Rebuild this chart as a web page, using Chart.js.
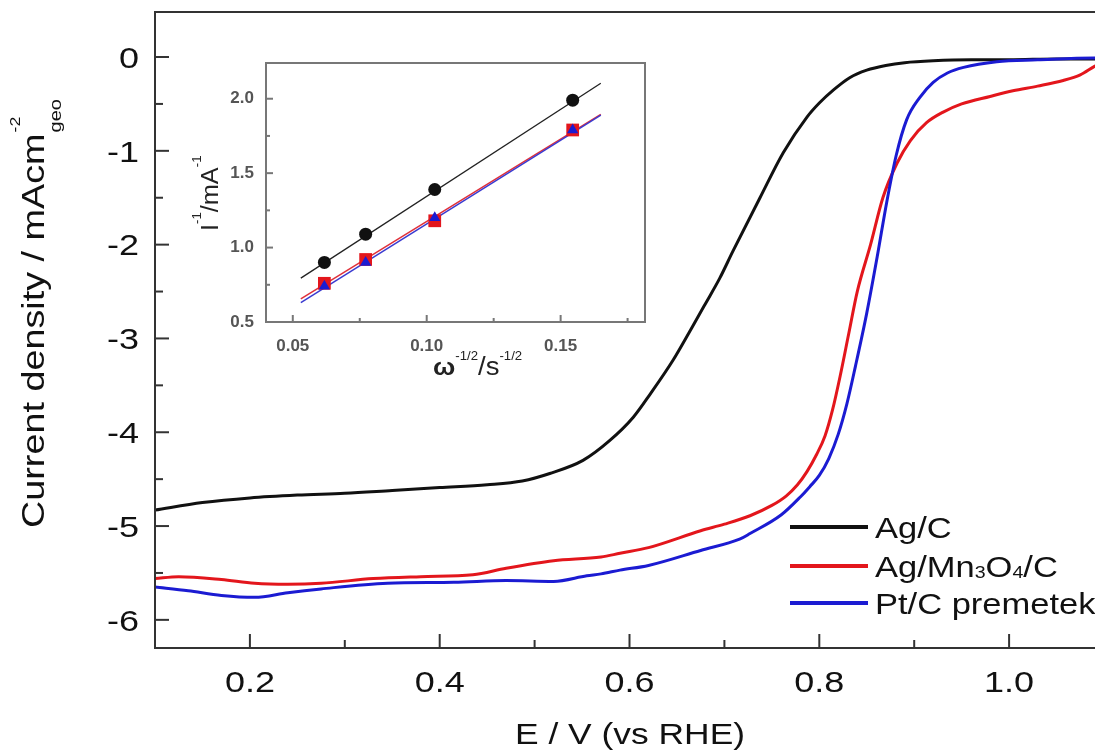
<!DOCTYPE html>
<html><head><meta charset="utf-8">
<script src="https://cdn.jsdelivr.net/npm/chart.js@4.4.1/dist/chart.umd.min.js"></script>
<style>
html,body{margin:0;padding:0;overflow:hidden;background:#fff;width:1095px;height:750px}
#main{position:absolute;left:0;top:0}
#inset{position:absolute;left:180px;top:40px}
</style></head><body>
<canvas id="main" width="1105" height="750"></canvas>
<canvas id="inset" width="480" height="350"></canvas>
<script>
// ---------------- data ----------------
const seriesNames = ['Ag/C', 'Ag/Mn3O4/C', 'Pt/C premetek'];
const seriesColors = ['#111111', '#e3161c', '#1b1bd2'];

const agcE = [0.10,0.15,0.20,0.25,0.30,0.35,0.40,0.45,0.487,0.516,0.551,0.579,0.604,0.622,0.646,0.666,0.68,0.695,0.709,0.7375,0.762,0.787,0.80,0.815,0.832,0.85,0.87,0.89,0.92,0.96,1.00,1.05,1.10];
const agcJ = [-4.83,-4.75,-4.70,-4.67,-4.65,-4.62,-4.59,-4.56,-4.52,-4.44,-4.30,-4.09,-3.84,-3.59,-3.23,-2.88,-2.63,-2.36,-2.07,-1.50,-1.02,-0.64,-0.49,-0.35,-0.22,-0.14,-0.09,-0.06,-0.04,-0.03,-0.03,-0.02,-0.02];

const agmE = [0.10,0.125,0.17,0.205,0.24,0.275,0.33,0.38,0.435,0.47,0.52,0.57,0.59,0.62,0.675,0.70,0.727,0.75,0.765,0.777,0.787,0.797,0.806,0.814,0.822,0.831,0.840,0.854,0.867,0.882,0.896,0.913,0.93,0.95,0.98,1.004,1.03,1.057,1.075,1.09,1.10];
const agmJ = [-5.56,-5.54,-5.57,-5.61,-5.62,-5.61,-5.56,-5.54,-5.52,-5.45,-5.37,-5.33,-5.29,-5.23,-5.05,-4.98,-4.89,-4.78,-4.68,-4.56,-4.42,-4.24,-4.04,-3.76,-3.40,-2.95,-2.50,-2.00,-1.50,-1.13,-0.89,-0.70,-0.59,-0.50,-0.42,-0.36,-0.31,-0.25,-0.19,-0.10,-0.05];

const ptcE = [0.10,0.135,0.17,0.205,0.24,0.275,0.345,0.415,0.47,0.52,0.555,0.57,0.59,0.62,0.675,0.716,0.727,0.76,0.78,0.79,0.80,0.81,0.82,0.829,0.838,0.850,0.861,0.871,0.881,0.892,0.906,0.92,0.935,0.952,0.987,1.03,1.09,1.10];
const ptcJ = [-5.65,-5.69,-5.74,-5.76,-5.71,-5.67,-5.61,-5.60,-5.58,-5.59,-5.53,-5.51,-5.47,-5.42,-5.26,-5.14,-5.08,-4.88,-4.69,-4.58,-4.46,-4.28,-4.02,-3.70,-3.30,-2.73,-2.13,-1.55,-1.05,-0.67,-0.43,-0.27,-0.17,-0.11,-0.05,-0.03,-0.01,-0.01];

const xTickValues = [0.2,0.4,0.6,0.8,1.0];
const xTickLabels = ['0.2','0.4','0.6','0.8','1.0'];
const xMinorTicks = [0.1,0.3,0.5,0.7,0.9,1.1];
const yTickValues = [0,-1,-2,-3,-4,-5,-6];
const yTickLabels = ['0','-1','-2','-3','-4','-5','-6'];
const yMinorTicks = [-0.5,-1.5,-2.5,-3.5,-4.5,-5.5];

// inset (Koutecky-Levich)
const insetX    = [0.0618,0.0772,0.1030,0.1545];
const insetAgC  = [0.90,1.09,1.39,1.99];
const insetAgMn = [0.76,0.92,1.18,1.79];
const insetPt   = [0.74,0.90,1.20,1.79];
const fitX      = [0.053,0.165];
const fitAgC    = [0.795,2.104];
const fitAgMn   = [0.655,1.895];
const fitPt     = [0.63,1.89];
const insetXTicks = [0.05,0.10,0.15];
const insetXTickLabels = ['0.05','0.10','0.15'];
const insetXMinor = [0.075,0.125,0.175];
const insetYTicks = [0.5,1.0,1.5,2.0];
const insetYTickLabels = ['0.5','1.0','1.5','2.0'];
const insetYMinor = [0.75,1.25,1.75];

// ---------------- helpers ----------------
const FF = "'Liberation Sans', Arial, Helvetica, sans-serif";
const pts = (xs, ys) => xs.map((x, i) => ({x, y: ys[i]}));

function runsWidth(ctx, runs, hs) {
  ctx.save();
  let w = 0;
  for (const r of runs) { ctx.font = (r.weight || 'normal') + ' ' + r.size + 'px ' + FF; w += ctx.measureText(r.t).width; }
  ctx.restore();
  return w * hs;
}

// draws a run of text parts on one baseline, horizontally scaled by hs
function drawRuns(ctx, runs, x, y, hs, color) {
  ctx.save();
  ctx.translate(x, y);
  ctx.scale(hs, 1);
  ctx.fillStyle = color || '#111';
  ctx.textBaseline = 'alphabetic';
  ctx.textAlign = 'left';
  let cx = 0;
  for (const r of runs) {
    ctx.font = (r.weight || 'normal') + ' ' + r.size + 'px ' + FF;
    ctx.fillText(r.t, cx, r.dy || 0);
    cx += ctx.measureText(r.t).width;
  }
  ctx.restore();
  return cx * hs;
}

function frameTicks(id, o) {
  return {
    id,
    afterDraw(chart) {
      const {ctx, chartArea: a, scales: {x, y}} = chart;
      ctx.save();
      ctx.strokeStyle = o.color; ctx.lineWidth = o.lw; ctx.lineCap = 'butt';
      ctx.strokeRect(a.left, a.top, a.right - a.left, a.bottom - a.top);
      const seg = (x1, y1, x2, y2) => { ctx.beginPath(); ctx.moveTo(x1, y1); ctx.lineTo(x2, y2); ctx.stroke(); };
      x.ticks.forEach(t => { const p = x.getPixelForValue(t.value); seg(p, a.bottom, p, a.bottom - o.major); });
      o.xMinor.forEach(v => { const p = x.getPixelForValue(v); seg(p, a.bottom, p, a.bottom - o.minor); });
      y.ticks.forEach(t => { const p = y.getPixelForValue(t.value); seg(a.left, p, a.left + o.major, p); });
      o.yMinor.forEach(v => { const p = y.getPixelForValue(v); seg(a.left, p, a.left + o.minor, p); });
      ctx.restore();
      if (o.labels) {
        const L = o.labels;
        x.ticks.forEach((t, i) => {
          const runs = [{t: L.x[i], size: L.size}];
          const w = runsWidth(ctx, runs, L.hs);
          drawRuns(ctx, runs, x.getPixelForValue(t.value) - w / 2, a.bottom + L.xGap, L.hs, L.color);
        });
        y.ticks.forEach((t, i) => {
          const runs = [{t: L.y[i], size: L.size}];
          const w = runsWidth(ctx, runs, L.hs);
          drawRuns(ctx, runs, a.left - L.yGap - w, y.getPixelForValue(t.value) + L.size * 0.358, L.hs, L.color);
        });
      }
    }
  };
}

const zeroPad = s => { s.paddingTop = 0; s.paddingBottom = 0; s.paddingLeft = 0; s.paddingRight = 0; };

// ---------------- main chart ----------------
const mainDecor = {
  id: 'mainDecor',
  afterDraw(chart) {
    const ctx = chart.ctx;
    // x title
    const xr = [{t: 'E / V (vs RHE)', size: 30}];
    const hsX = 1.18;
    const w = runsWidth(ctx, xr, hsX);
    drawRuns(ctx, xr, 630 - w / 2, 744, hsX);
    // y title (rotated)
    ctx.save();
    ctx.translate(43.5, 528);
    ctx.rotate(-Math.PI / 2);
    const base = drawRuns(ctx, [{t: 'Current density / mAcm', size: 32}], 0, 0, 1.18);
    drawRuns(ctx, [{t: '-2', size: 15}], base + 1, -24, 1.18);
    drawRuns(ctx, [{t: 'geo', size: 17}], base + 1, 17, 1.18);
    ctx.restore();
    // legend
    const ly = [527, 566, 603];
    [0, 1, 2].forEach(i => {
      const ds = chart.data.datasets.find(d => d.label === seriesNames[i]);
      ctx.save();
      ctx.strokeStyle = ds.borderColor; ctx.lineWidth = 4;
      ctx.beginPath(); ctx.moveTo(790, ly[i]); ctx.lineTo(868, ly[i]); ctx.stroke();
      ctx.restore();
      const by = ly[i] + 11;
      if (i === 1) {
        drawRuns(ctx, [
          {t: 'Ag/Mn', size: 30}, {t: '3', size: 17, dy: 1}, {t: 'O', size: 30}, {t: '4', size: 17, dy: 1}, {t: '/C', size: 30}
        ], 875, by, 1.15);
      } else {
        drawRuns(ctx, [{t: seriesNames[i], size: 30}], 875, by, 1.15);
      }
    });
  }
};

new Chart(document.getElementById('main'), {
  type: 'scatter',
  data: {
    datasets: [
      {label: seriesNames[2], data: pts(ptcE, ptcJ), borderColor: seriesColors[2], order: 0},
      {label: seriesNames[1], data: pts(agmE, agmJ), borderColor: seriesColors[1], order: 1},
      {label: seriesNames[0], data: pts(agcE, agcJ), borderColor: seriesColors[0], order: 2}
    ].map(d => Object.assign(d, {showLine: true, pointRadius: 0, borderWidth: 3, cubicInterpolationMode: 'monotone', backgroundColor: d.borderColor}))
  },
  options: {
    responsive: false, animation: false, events: [],
    layout: {padding: {left: 0, top: 12, right: 1, bottom: 0}},
    plugins: {legend: {display: false}, tooltip: {enabled: false}},
    scales: {
      x: {
        type: 'linear', min: 0.1, max: 1.1,
        grid: {display: false}, border: {display: false},
        afterBuildTicks: s => { s.ticks = xTickValues.map(v => ({value: v})); },
        afterFit: s => { s.height = 102; zeroPad(s); },
        ticks: {display: false, autoSkip: false}
      },
      y: {
        type: 'linear', min: -6.3, max: 0.48,
        grid: {display: false}, border: {display: false},
        afterBuildTicks: s => { s.ticks = yTickValues.map(v => ({value: v})); },
        afterFit: s => { s.width = 155; zeroPad(s); },
        ticks: {display: false, autoSkip: false}
      }
    }
  },
  plugins: [frameTicks('mainFrame', {color: '#333', lw: 2, major: 14, minor: 8, xMinor: xMinorTicks, yMinor: yMinorTicks,
    labels: {x: xTickLabels, y: yTickLabels, size: 30, hs: 1.2, color: '#111', xGap: 44, yGap: 16}}), mainDecor]
});

// ---------------- inset chart ----------------
const insetDecor = {
  id: 'insetDecor',
  beforeDraw(chart) {
    const {ctx, chartArea: a} = chart;
    ctx.save(); ctx.fillStyle = '#fff'; ctx.fillRect(a.left, a.top, a.right - a.left, a.bottom - a.top); ctx.restore();
  },
  afterDraw(chart) {
    const ctx = chart.ctx;
    drawRuns(ctx, [
      {t: '\u03c9', size: 24, weight: 'bold'}, {t: '-1/2', size: 12, dy: -15}, {t: '/s', size: 25}, {t: '-1/2', size: 12, dy: -15}
    ], 253, 335, 1.1, '#222');
    ctx.save();
    ctx.translate(38, 191);
    ctx.rotate(-Math.PI / 2);
    drawRuns(ctx, [
      {t: 'I', size: 23}, {t: '-1', size: 12, dy: -17}, {t: '/mA', size: 23}, {t: '-1', size: 12, dy: -17}
    ], 0, 0, 1.1, '#222');
    ctx.restore();
  }
};

new Chart(document.getElementById('inset'), {
  type: 'scatter',
  data: {
    datasets: [
      {label: 'Ag/C', data: pts(insetX, insetAgC), pointStyle: 'circle', pointRadius: 6.5, backgroundColor: '#111', borderColor: '#111', borderWidth: 0, order: 0},
      {label: 'Pt/C premetek', data: pts(insetX, insetPt), pointStyle: 'triangle', pointRadius: 6.5, backgroundColor: '#1b1bd2', borderColor: '#1b1bd2', borderWidth: 0, order: 1},
      {label: 'Ag/Mn3O4/C', data: pts(insetX, insetAgMn), pointStyle: 'rect', pointRadius: 9, backgroundColor: '#e3161c', borderColor: '#e3161c', borderWidth: 0, order: 2},
      {label: 'Ag/C fit', data: pts(fitX, fitAgC), showLine: true, pointRadius: 0, borderColor: '#222', borderWidth: 1.3, order: 3},
      {label: 'Pt/C fit', data: pts(fitX, fitPt), showLine: true, pointRadius: 0, borderColor: '#3a3ad0', borderWidth: 1.5, order: 4},
      {label: 'Ag/Mn3O4/C fit', data: pts(fitX, fitAgMn), showLine: true, pointRadius: 0, borderColor: '#e0303a', borderWidth: 1.5, order: 5}
    ]
  },
  options: {
    responsive: false, animation: false, events: [],
    layout: {padding: {left: 0, top: 23, right: 15, bottom: 0}},
    plugins: {legend: {display: false}, tooltip: {enabled: false}},
    scales: {
      x: {
        type: 'linear', min: 0.04, max: 0.1815,
        grid: {display: false}, border: {display: false},
        afterBuildTicks: s => { s.ticks = insetXTicks.map(v => ({value: v})); },
        afterFit: s => { s.height = 68; },
        ticks: {callback: (v, i) => insetXTickLabels[i], font: {family: FF, size: 17, weight: 'bold'}, color: '#555', padding: 6, maxRotation: 0, autoSkip: false}
      },
      y: {
        type: 'linear', min: 0.5, max: 2.24,
        grid: {display: false}, border: {display: false},
        afterBuildTicks: s => { s.ticks = insetYTicks.map(v => ({value: v})); },
        afterFit: s => { s.width = 86; },
        ticks: {callback: (v, i) => insetYTickLabels[i], font: {family: FF, size: 17, weight: 'bold'}, color: '#555', padding: 4, autoSkip: false}
      }
    }
  },
  plugins: [frameTicks('insetFrame', {color: '#777', lw: 2, major: 7, minor: 4, xMinor: insetXMinor, yMinor: insetYMinor}), insetDecor]
});
</script>
</body></html>
